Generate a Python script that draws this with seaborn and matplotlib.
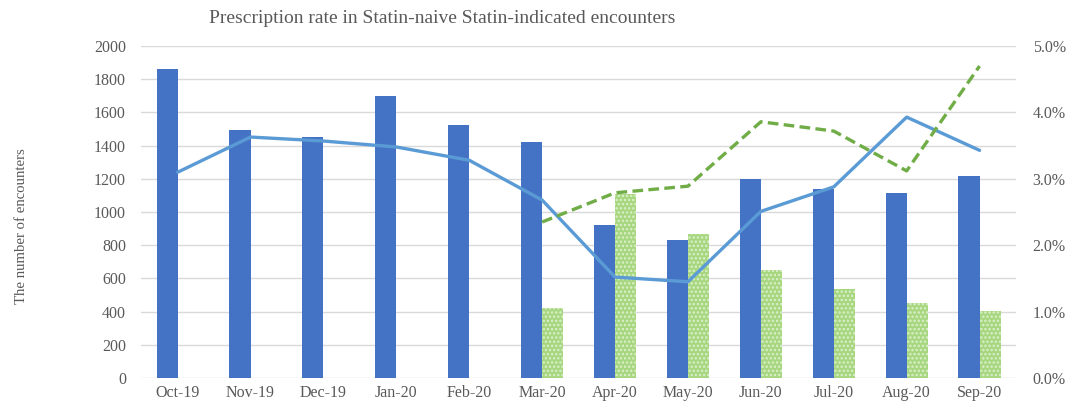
import numpy as np
import pandas as pd
import matplotlib
matplotlib.use("Agg")
import matplotlib.pyplot as plt
import seaborn as sns

months = ["Oct-19", "Nov-19", "Dec-19", "Jan-20", "Feb-20", "Mar-20",
          "Apr-20", "May-20", "Jun-20", "Jul-20", "Aug-20", "Sep-20"]
# bar series (left axis, number of encounters)
blue_counts = [1860, 1495, 1455, 1700, 1525, 1420, 920, 830, 1200, 1140, 1115, 1220]
green_counts = [np.nan, np.nan, np.nan, np.nan, np.nan, 420, 1110, 865, 650, 535, 450, 405]
# line series (right axis, prescription rate in %)
blue_rate = [3.10, 3.63, 3.57, 3.48, 3.28, 2.68, 1.52, 1.45, 2.51, 2.88, 3.93, 3.43]
green_rate = [np.nan, np.nan, np.nan, np.nan, np.nan, 2.35, 2.79, 2.89, 3.86, 3.72, 3.12, 4.70]

TXT = "#595959"
GRID = "#d9d9d9"
BLUE_BAR = "#4472c4"
GREEN_BAR = "#a6d67e"
BLUE_LINE = "#5b9bd5"
GREEN_LINE = "#70ad47"

sns.set_theme(style="white")
plt.rcParams["font.family"] = ["Liberation Serif", "DejaVu Serif"]
plt.rcParams["hatch.linewidth"] = 1.2

bars = pd.DataFrame({
    "month": months * 2,
    "series": ["blue"] * len(months) + ["green"] * len(months),
    "count": blue_counts + green_counts,
})

fig = plt.figure(figsize=(10.78, 4.08), dpi=100)
ax = fig.add_axes([0.131, 0.0735, 0.8115, 0.8135])

sns.barplot(data=bars, x="month", y="count", hue="series",
            palette={"blue": BLUE_BAR, "green": GREEN_BAR}, saturation=1,
            width=0.58, gap=0, legend=False, ax=ax, zorder=2)

# blue bars plain, green bars with a dotted texture
for p in ax.containers[0]:
    p.set_linewidth(0)
for p in ax.containers[1]:
    p.set_hatch("....")
    p.set_edgecolor("#dcefcb")
    p.set_linewidth(0)

ax.set_ylim(0, 2000)
ax.set_yticks(np.arange(0, 2001, 200))
ax.set_xlim(-0.5, len(months) - 0.5)
ax.grid(axis="y", color=GRID, linewidth=1, zorder=0)
ax.set_axisbelow(True)
for s in ax.spines.values():
    s.set_visible(False)
ax.tick_params(axis="both", length=0, labelsize=11.5, labelcolor=TXT)
ax.tick_params(axis="y", pad=11)
ax.tick_params(axis="x", pad=5)
ax.set_xlabel("")
ax.set_ylabel("")

ax2 = ax.twinx()
pos = np.arange(len(months))
sns.lineplot(x=pos, y=blue_rate, color=BLUE_LINE, linewidth=2.4, ax=ax2)
sns.lineplot(x=pos, y=green_rate, color=GREEN_LINE, linewidth=2.4,
             linestyle=(0, (3.2, 1.6)), ax=ax2)
ax2.set_ylim(0, 5)
ax2.set_yticks(np.arange(0, 5.01, 1))
ax2.set_yticklabels([f"{v:.1f}%" for v in np.arange(0, 5.01, 1)])
for s in ax2.spines.values():
    s.set_visible(False)
ax2.tick_params(axis="y", length=0, labelsize=11.5, labelcolor=TXT, pad=12)
ax2.set_xlim(-0.5, len(months) - 0.5)

fig.text(0.41, 0.955, "Prescription rate in Statin-naive Statin-indicated encounters",
         ha="center", va="center", fontsize=14, color=TXT)
fig.text(0.0195, 0.446, "The number of encounters", rotation=90,
         ha="center", va="center", fontsize=10.6, color=TXT)

fig.savefig("out.png", dpi=100)
